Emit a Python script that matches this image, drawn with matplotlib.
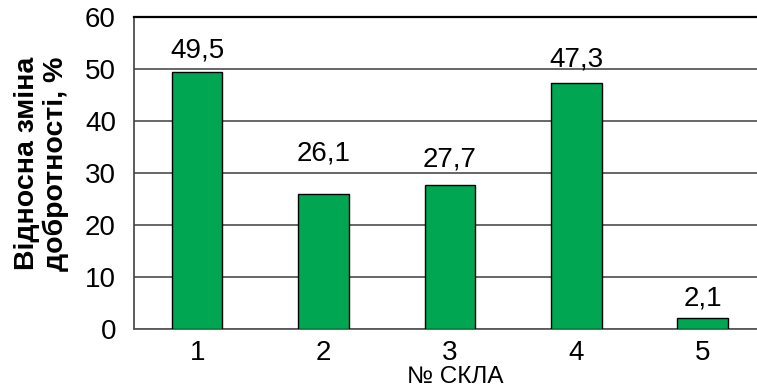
import matplotlib.pyplot as plt

plt.rcParams['font.family'] = ['Liberation Sans', 'DejaVu Sans']

# glass samples and relative change of Q-factor, %
samples = [1, 2, 3, 4, 5]
values = [49.5, 26.1, 27.7, 47.3, 2.1]
value_labels = ["49,5", "26,1", "27,7", "47,3", "2,1"]
# label heights above each bar, in data units
label_offsets = [2.7, 6.3, 3.7, 3.3, 2.5]

fig = plt.figure(figsize=(7.57, 3.89), dpi=100)
ax = fig.add_axes([0.177, 0.1535, 0.823, 0.802])

ax.bar(samples, values, width=0.40, color="#00a651", edgecolor="black",
       linewidth=1.0, zorder=3)

for x, v, lab, off in zip(samples, values, value_labels, label_offsets):
    ax.text(x, v + off, lab, ha="center", va="baseline", fontsize=20)

ax.set_xlim(0.5, 5.43)
ax.set_ylim(0, 60)
ax.set_yticks(range(0, 61, 10))
ax.set_xticks(samples)
ax.yaxis.grid(True, color="#5a5a5a", linewidth=1.3, zorder=0)
ax.set_axisbelow(True)

ax.tick_params(axis="y", length=0, pad=13, labelsize=20)
ax.tick_params(axis="x", length=0, pad=8, labelsize=20)

ax.spines["right"].set_visible(False)
ax.spines["top"].set_color("black")
ax.spines["top"].set_linewidth(1.6)
ax.spines["left"].set_color("#404040")
ax.spines["left"].set_linewidth(1.2)
ax.spines["bottom"].set_color("#5a5a5a")
ax.spines["bottom"].set_linewidth(1.3)

fig.text(0.055, 0.58, "Відносна зміна\nдобротності, %", rotation=90,
         ha="center", va="center", fontsize=20.5, fontweight="bold",
         linespacing=1.1)
fig.text(0.601, 0.016, "№ СКЛА", ha="center", va="baseline", fontsize=17.5)

fig.savefig("out.png", dpi=100)
